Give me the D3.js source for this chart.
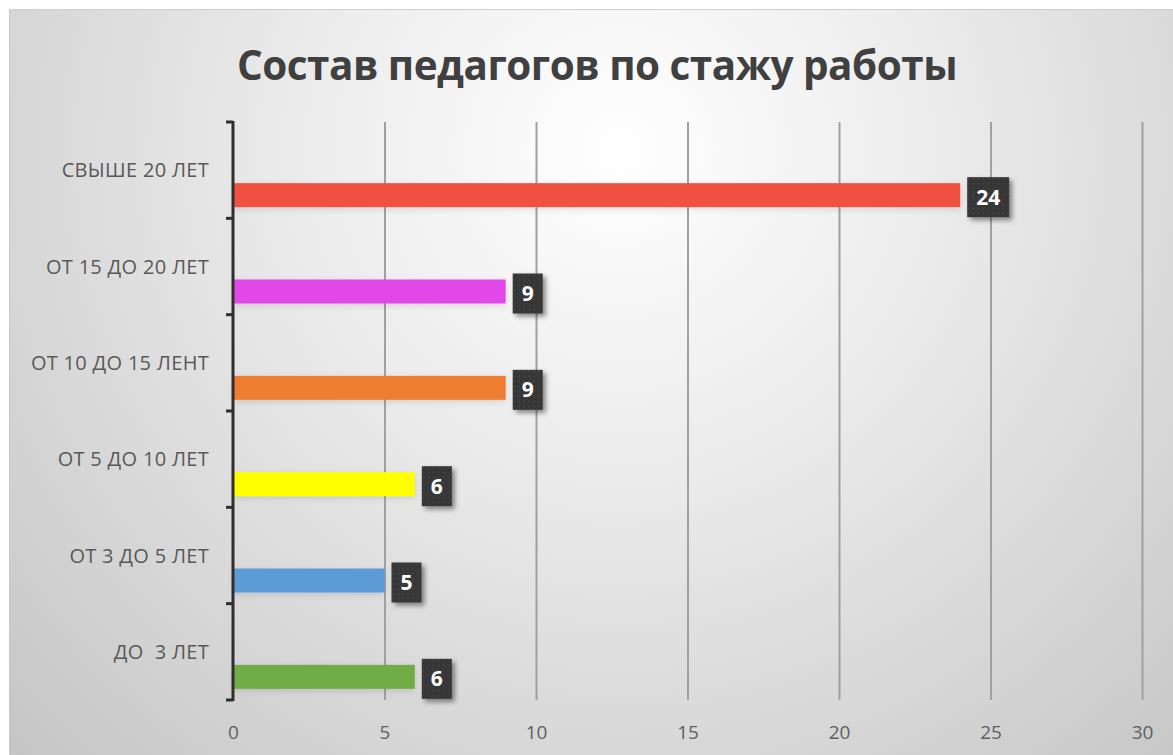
<!DOCTYPE html>
<html>
<head>
<meta charset="utf-8">
<script src="https://cdn.jsdelivr.net/npm/d3@7"></script>
<style>
  html, body { margin: 0; padding: 0; background: #ffffff; }
  svg { display: block; }
</style>
</head>
<body>
<svg id="chart" width="1173" height="755"></svg>
<script>
// ---- data ----
const titleText = "Состав педагогов по стажу работы";
const categories = ["СВЫШЕ 20 ЛЕТ", "ОТ 15 ДО 20 ЛЕТ", "ОТ 10 ДО 15 ЛЕНТ", "ОТ 5 ДО 10 ЛЕТ", "ОТ 3 ДО 5 ЛЕТ", "ДО  3 ЛЕТ"];
const values = [24, 9, 9, 6, 5, 6];
const barColors = ["#f05141", "#e247e9", "#ee7d32", "#ffff00", "#5b9bd5", "#70ad47"];
const xTicks = [0, 5, 10, 15, 20, 25, 30];
const xDomain = [0, 30];

// ---- layout ----
const W = 1173, H = 755;
const plot = { left: 233, right: 1142, top: 122, bottom: 700 };
const svg = d3.select("#chart");
const defs = svg.append("defs");

// background gradient
const rg = defs.append("radialGradient").attr("id", "bg")
  .attr("gradientUnits", "userSpaceOnUse")
  .attr("cx", 620).attr("cy", 150).attr("r", 900);
rg.append("stop").attr("offset", "0%").attr("stop-color", "#ffffff");
rg.append("stop").attr("offset", "35%").attr("stop-color", "#ececec");
rg.append("stop").attr("offset", "100%").attr("stop-color", "#c2c2c2");

// dotted texture for labels
const pat = defs.append("pattern").attr("id", "dots")
  .attr("patternUnits", "userSpaceOnUse").attr("width", 5).attr("height", 5);
pat.append("rect").attr("width", 5).attr("height", 5).attr("fill", "#353535");
pat.append("circle").attr("cx", 1.5).attr("cy", 1.5).attr("r", 0.9).attr("fill", "#4a4a4a");
pat.append("circle").attr("cx", 4).attr("cy", 4).attr("r", 0.7).attr("fill", "#424242");

const sh = defs.append("filter").attr("id", "shadow")
  .attr("x", "-30%").attr("y", "-30%").attr("width", "170%").attr("height", "170%");
sh.append("feDropShadow").attr("dx", 3).attr("dy", 3).attr("stdDeviation", 2.5)
  .attr("flood-color", "#000").attr("flood-opacity", 0.45);

const glow = defs.append("filter").attr("id", "glow")
  .attr("x", "-5%").attr("y", "-60%").attr("width", "110%").attr("height", "220%");
glow.append("feDropShadow").attr("dx", 0).attr("dy", 2).attr("stdDeviation", 3)
  .attr("flood-color", "#000").attr("flood-opacity", 0.12);

// chart area
svg.append("rect").attr("x", 9).attr("y", 9).attr("width", W - 9).attr("height", H - 9)
  .attr("fill", "url(#bg)");
svg.append("line").attr("x1", 9).attr("x2", W).attr("y1", 9.5).attr("y2", 9.5)
  .attr("stroke", "#cfcfcf").attr("stroke-width", 1);
svg.append("line").attr("x1", 9.5).attr("x2", 9.5).attr("y1", 9).attr("y2", H)
  .attr("stroke", "#c8c8c8").attr("stroke-width", 1);

// scales
const x = d3.scaleLinear().domain(xDomain).range([plot.left, plot.right]);
const y = d3.scaleBand().domain(categories).range([plot.top, plot.bottom]).paddingInner(0).paddingOuter(0);
const bw = y.bandwidth();
const barH = 24;
const barOffset = bw * 0.635; // bars sit in lower part of each band

// gridlines
const xAxisGrid = d3.axisBottom(x).tickValues(xTicks.filter(t => t > 0))
  .tickSize(-(plot.bottom - plot.top)).tickFormat("");
svg.append("g").attr("transform", `translate(0,${plot.bottom})`).call(xAxisGrid)
  .call(g => g.select(".domain").remove())
  .call(g => g.selectAll(".tick line").attr("stroke", "#a0a0a0").attr("stroke-width", 2));

// x tick labels
const xAxis = d3.axisBottom(x).tickValues(xTicks).tickSize(0).tickPadding(0).tickFormat(d3.format("d"));
svg.append("g").attr("transform", `translate(0,${plot.bottom + 39})`).call(xAxis)
  .call(g => g.select(".domain").remove())
  .call(g => g.selectAll("text").attr("fill", "#5f5f5f")
    .attr("font-family", "'Open Sans', sans-serif").attr("font-size", 19).attr("dy", 0));

// bars
svg.append("g").selectAll("rect").data(categories).join("rect")
  .attr("x", x(0) + 1)
  .attr("y", (d) => y(d) + barOffset)
  .attr("width", (d, i) => x(values[i]) - x(0) - 1)
  .attr("height", barH)
  .attr("fill", (d, i) => barColors[i])
  .attr("filter", "url(#glow)");

// y axis (bracket style)
const yEdges = categories.map(c => y(c)).concat([plot.bottom]);
const ya = svg.append("g");
ya.append("line").attr("x1", plot.left).attr("x2", plot.left)
  .attr("y1", plot.top - 1).attr("y2", plot.bottom + 1)
  .attr("stroke", "#2f2f2f").attr("stroke-width", 3);
ya.selectAll("line.tk").data(yEdges).join("line").attr("class", "tk")
  .attr("x1", plot.left - 7).attr("x2", plot.left)
  .attr("y1", d => d).attr("y2", d => d)
  .attr("stroke", "#2f2f2f").attr("stroke-width", 3);

// category labels
svg.append("g").selectAll("text").data(categories).join("text")
  .attr("x", 209)
  .attr("y", d => y(d) + bw / 2)
  .attr("dy", "0.35em")
  .attr("text-anchor", "end")
  .attr("fill", "#595959")
  .attr("font-family", "'Open Sans', sans-serif")
  .attr("font-size", 20)
  .attr("letter-spacing", 0.3)
  .style("white-space", "pre")
  .text(d => d);

// value labels
const lab = svg.append("g").selectAll("g").data(categories).join("g")
  .attr("transform", (d, i) => `translate(${x(values[i]) + 7},${y(d) + barOffset + barH / 2 + 2})`);
lab.each(function(d, i) {
  const g = d3.select(this);
  const t = g.append("text").attr("fill", "#ffffff")
    .attr("font-family", "'Open Sans', sans-serif").attr("font-weight", "bold")
    .attr("font-size", 21).attr("text-anchor", "middle").attr("dy", "0.36em")
    .text(String(values[i]));
  const tw = t.node().getComputedTextLength();
  const bwid = tw + 18, bh = 40;
  t.attr("x", bwid / 2);
  g.insert("rect", "text").attr("x", 0).attr("y", -bh / 2)
    .attr("width", bwid).attr("height", bh)
    .attr("fill", "url(#dots)").attr("filter", "url(#shadow)");
});

// title
const title = svg.append("text").attr("x", 597).attr("y", 80)
  .attr("text-anchor", "middle").attr("fill", "#404040")
  .attr("font-family", "'Open Sans', sans-serif").attr("font-weight", "bold")
  .attr("font-size", 40).attr("letter-spacing", -0.5).text(titleText);
const tw = title.node().getComputedTextLength();
title.attr("font-size", 40 * 720 / tw);
</script>
</body>
</html>
